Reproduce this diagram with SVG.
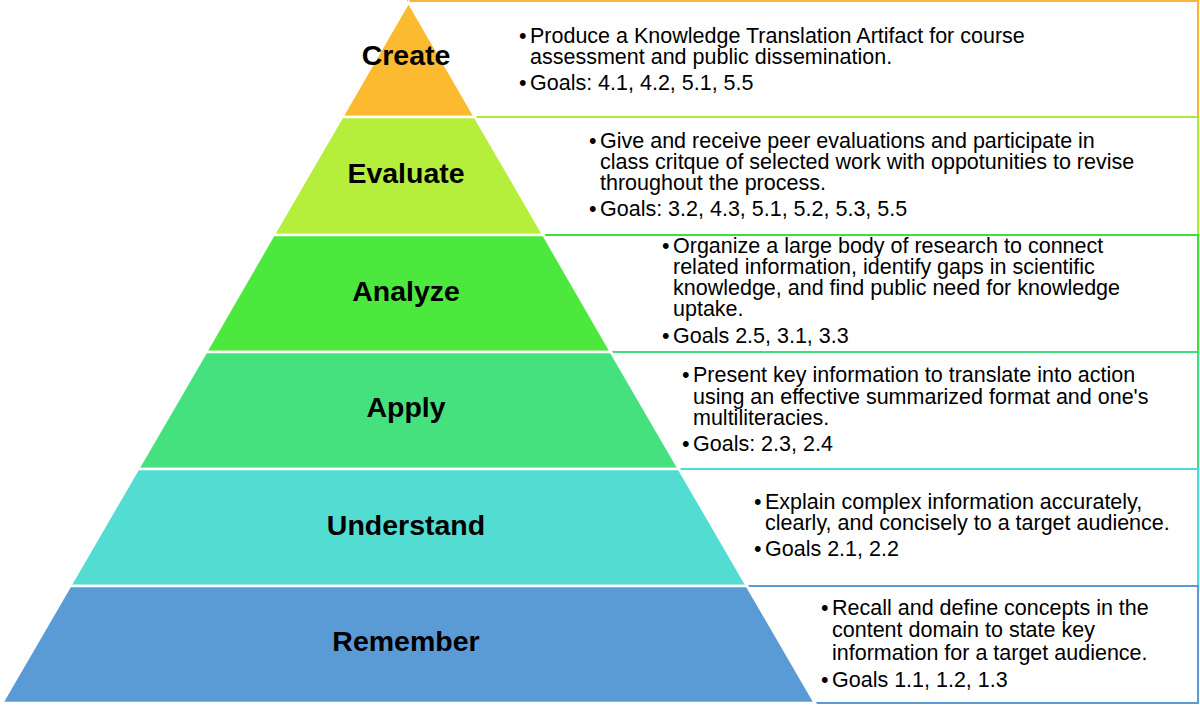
<svg xmlns="http://www.w3.org/2000/svg" width="1200" height="705" viewBox="0 0 1200 705">
<style>
.box{fill:#fff;stroke-width:2}
.lvl{stroke:#fff;stroke-width:2.5;stroke-linejoin:miter}
.lbl{font-family:"Liberation Sans",Arial,sans-serif;font-weight:bold;font-size:28.5px;fill:#000;text-anchor:middle}
.t{font-family:"Liberation Sans",Arial,sans-serif;font-size:21.5px;fill:#000}
</style>
<rect width="1200" height="705" fill="#fff"/>
<g id="boxes">
<rect class="box" x="408" y="1" width="790" height="116" stroke="#F9B43A"/>
<rect class="box" x="475" y="117" width="723" height="118" stroke="#A9EA36"/>
<rect class="box" x="543" y="235" width="655" height="117" stroke="#3CE03A"/>
<rect class="box" x="611" y="352" width="587" height="117" stroke="#3EDE7C"/>
<rect class="box" x="679" y="469" width="519" height="117" stroke="#46DCD8"/>
<rect class="box" x="746" y="586" width="452" height="117" stroke="#5B9BD5"/>
</g>
<g id="create">
<polygon class="lvl" points="408.5,2 475,117 342,117" fill="#FBBA2F"/>
<text class="lbl" x="406" y="65">Create</text>
<text class="t"><tspan x="519" y="43">•</tspan><tspan x="530" y="43">Produce a Knowledge Translation Artifact for course</tspan><tspan x="530" y="64">assessment and public dissemination.</tspan><tspan x="519" y="90">•</tspan><tspan x="530" y="90">Goals: 4.1, 4.2, 5.1, 5.5</tspan></text>
</g>
<g id="evaluate">
<polygon class="lvl" points="342,117 475,117 543.5,235 273.5,235" fill="#B5EE3B"/>
<text class="lbl" x="406" y="183">Evaluate</text>
<text class="t"><tspan x="589" y="148">•</tspan><tspan x="600" y="148">Give and receive peer evaluations and participate in</tspan><tspan x="600" y="169">class critque of selected work with oppotunities to revise</tspan><tspan x="600" y="190">throughout the process.</tspan><tspan x="589" y="216">•</tspan><tspan x="600" y="216">Goals: 3.2, 4.3, 5.1, 5.2, 5.3, 5.5</tspan></text>
</g>
<g id="analyze">
<polygon class="lvl" points="273.5,235 543.5,235 611,352 206,352" fill="#4CE83D"/>
<text class="lbl" x="406" y="301">Analyze</text>
<text class="t"><tspan x="662" y="253">•</tspan><tspan x="673" y="253">Organize a large body of research to connect</tspan><tspan x="673" y="274">related information, identify gaps in scientific</tspan><tspan x="673" y="295">knowledge, and find public need for knowledge</tspan><tspan x="673" y="316">uptake.</tspan><tspan x="662" y="343">•</tspan><tspan x="673" y="343">Goals 2.5, 3.1, 3.3</tspan></text>
</g>
<g id="apply">
<polygon class="lvl" points="206,352 611,352 679,469 138,469" fill="#46E17F"/>
<text class="lbl" x="406" y="417">Apply</text>
<text class="t"><tspan x="682" y="382">•</tspan><tspan x="693" y="382">Present key information to translate into action</tspan><tspan x="693" y="404">using an effective summarized format and one's</tspan><tspan x="693" y="425">multiliteracies.</tspan><tspan x="682" y="451">•</tspan><tspan x="693" y="451">Goals: 2.3, 2.4</tspan></text>
</g>
<g id="understand">
<polygon class="lvl" points="138,469 679,469 747,586 70,586" fill="#52DCD2"/>
<text class="lbl" x="406" y="535">Understand</text>
<text class="t"><tspan x="754" y="509">•</tspan><tspan x="765" y="509">Explain complex information accurately,</tspan><tspan x="765" y="530">clearly, and concisely to a target audience.</tspan><tspan x="754" y="556">•</tspan><tspan x="765" y="556">Goals 2.1, 2.2</tspan></text>
</g>
<g id="remember">
<polygon class="lvl" points="70,586 747,586 815,703 2,703" fill="#5B9BD5"/>
<text class="lbl" x="406" y="651">Remember</text>
<text class="t"><tspan x="821" y="615">•</tspan><tspan x="832" y="615">Recall and define concepts in the</tspan><tspan x="832" y="637">content domain to state key</tspan><tspan x="832" y="660">information for a target audience.</tspan><tspan x="821" y="687">•</tspan><tspan x="832" y="687">Goals 1.1, 1.2, 1.3</tspan></text>
</g>
</svg>
